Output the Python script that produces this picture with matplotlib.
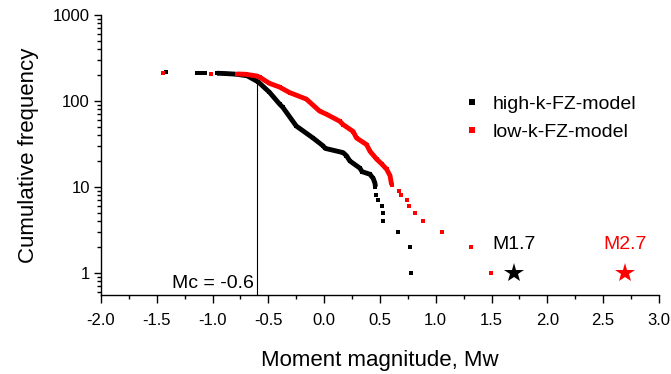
import matplotlib
matplotlib.use('Agg')
import matplotlib.pyplot as plt
from matplotlib.ticker import MultipleLocator, FixedLocator, FixedFormatter, LogLocator, NullFormatter

plt.rcParams['font.family'] = ['Liberation Sans', 'DejaVu Sans']

# high-k-FZ-model: continuous part of the curve (dense squares)
high_curve_mw = [-0.96, -0.88, -0.80, -0.77, -0.69, -0.59, -0.49, -0.40, -0.37, -0.25,
                 -0.10, -0.01, 0.01, 0.17, 0.20, 0.23, 0.32, 0.34, 0.41, 0.44, 0.455, 0.46]
high_curve_n = [210, 208, 205, 203, 196, 166, 126, 92, 84, 51,
                37, 30, 28, 25, 23, 20, 16.5, 15, 14, 12.5, 11, 10]
# high-k-FZ-model: isolated points
high_pts_mw = [-1.42, -1.14, -1.10, -1.07, 0.464, 0.48, 0.52, 0.53, 0.53, 0.66, 0.77, 0.78]
high_pts_n = [215, 214, 213, 212, 8, 7, 6, 5, 4, 3, 2, 1]

# low-k-FZ-model
low_curve_mw = [-0.78, -0.70, -0.605, -0.575, -0.49, -0.40, -0.31, -0.16, -0.04, 0.02,
                0.14, 0.17, 0.26, 0.29, 0.38, 0.41, 0.47, 0.515, 0.56, 0.59, 0.605]
low_curve_n = [206, 204, 195, 188, 160, 145, 125, 105, 76, 70,
               58, 53, 44, 37, 31, 26, 21, 18.5, 16, 13.5, 10.5]
low_pts_mw = [-1.44, -1.01, 0.673, 0.69, 0.74, 0.757, 0.817, 0.883, 1.056, 1.318, 1.495]
low_pts_n = [210, 208, 9, 8, 7, 6, 5, 4, 3, 2, 1]

# largest observed events
star_mw = [1.7, 2.7]
star_n = [1, 1]
star_labels = ['M1.7', 'M2.7']
star_colors = ['black', 'red']

mc = -0.6
mc_top = 197

fig = plt.figure(figsize=(6.71, 3.74), dpi=100)
ax = fig.add_axes([0.1505, 0.2112, 0.8315, 0.7487])

ax.set_yscale('log')
ax.set_xlim(-2.0, 3.0)
ax.set_ylim(0.55, 1000)

# completeness magnitude line
ax.plot([mc, mc], [0.55, mc_top], color='black', lw=0.8, zorder=1)
ax.text(mc - 0.03, 0.6, 'Mc = -0.6', ha='right', va='bottom', fontsize=14)

for cmw, cn, pmw, pn, col, lab in [
        (high_curve_mw, high_curve_n, high_pts_mw, high_pts_n, 'black', 'high-k-FZ-model'),
        (low_curve_mw, low_curve_n, low_pts_mw, low_pts_n, 'red', 'low-k-FZ-model')]:
    ax.plot(cmw, cn, color=col, lw=3.5, solid_capstyle='butt', solid_joinstyle='round', zorder=2)
    ax.plot(cmw, cn, 's', color=col, ms=3.5, mew=0, zorder=2)
    ax.plot(pmw, pn, 's', color=col, ms=3.5, mew=0, zorder=2, label=lab)

for x, y, t, c in zip(star_mw, star_n, star_labels, star_colors):
    ax.plot(x, y, '*', color=c, ms=15, mew=0, zorder=3)
    ax.annotate(t, (x, y), xytext=(0, 14), textcoords='offset points',
                ha='center', va='bottom', color=c, fontsize=14)

ax.legend(loc='upper left', bbox_to_anchor=(0.64, 0.74), frameon=False, fontsize=14,
          handlelength=0.6, handletextpad=0.8, labelspacing=0.5, markerscale=1.2,
          borderaxespad=0)

ax.spines['top'].set_visible(False)
ax.spines['right'].set_visible(False)
for s in ['left', 'bottom']:
    ax.spines[s].set_linewidth(1.0)

ax.xaxis.set_major_locator(MultipleLocator(0.5))
ax.xaxis.set_minor_locator(MultipleLocator(0.25))
ax.xaxis.set_major_formatter(plt.FuncFormatter(lambda v, p: '%.1f' % v))
ax.yaxis.set_major_locator(FixedLocator([1, 10, 100, 1000]))
ax.yaxis.set_major_formatter(FixedFormatter(['1', '10', '100', '1000']))
ax.yaxis.set_minor_locator(LogLocator(base=10, subs=range(2, 10)))
ax.yaxis.set_minor_formatter(NullFormatter())
ax.tick_params(axis='both', which='major', direction='out', length=5, width=1,
               labelsize=12, pad=3)
ax.tick_params(axis='x', which='major', length=6, pad=7)
ax.tick_params(axis='both', which='minor', direction='out', length=3, width=1)

ax.set_xlabel('Moment magnitude, Mw', fontsize=16, labelpad=16)
ax.set_ylabel('Cumulative frequency', fontsize=16, labelpad=10)

fig.savefig('out.png', dpi=100)
